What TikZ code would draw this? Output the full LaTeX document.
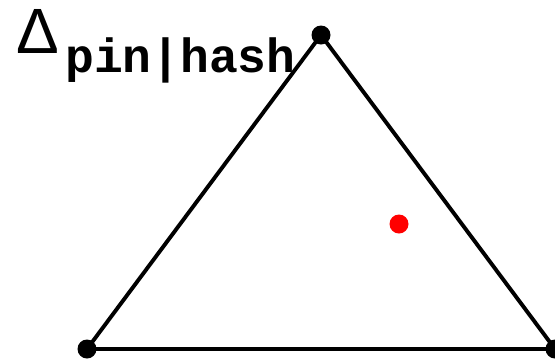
\documentclass[tikz,border=0pt]{standalone}
\usepackage{fontspec}
\newfontfamily\deltafont{Liberation Sans}
\newfontfamily\subfont{Liberation Mono}
\begin{document}
\begin{tikzpicture}[x=1pt,y=-1pt,
  vtx/.style={circle,fill=black,inner sep=0pt,minimum size=19pt},
  edge/.style={line width=3.9pt}]
\useasboundingbox (0,0) rectangle (555,360);
\coordinate (A) at (321,35);
\coordinate (B) at (87,349);
\coordinate (C) at (555,349);
\draw[edge,line join=miter] (A) -- (B) -- (C) -- cycle;
\node[vtx] (a) at (A) {};
\node[vtx] (b) at (B) {};
\node[vtx] (c) at (C) {};
\node[circle,fill=red,inner sep=0pt,minimum size=19pt] (p) at (399,224) {};
\node[anchor=base west,inner sep=0pt] (d) at (16,53) {\fontsize{64}{64}\deltafont Δ};
\node[anchor=base west,inner sep=0pt] (s) at (65,72) {\fontsize{48}{48}\subfont\bfseries pin|hash};
\end{tikzpicture}
\end{document}
